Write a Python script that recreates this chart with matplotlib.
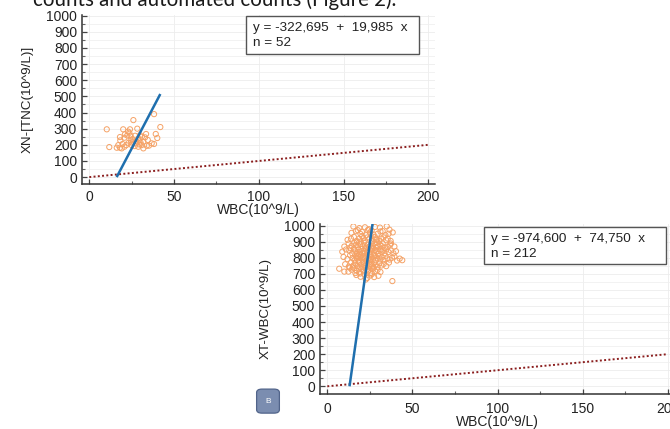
import matplotlib
matplotlib.use("Agg")
import matplotlib.pyplot as plt
from matplotlib.patches import Rectangle, FancyBboxPatch
from matplotlib.ticker import MultipleLocator

plt.rcParams["font.family"] = ["Liberation Sans", "DejaVu Sans"]

# --- panel A: XN-TNC vs WBC ---
xn_wbc = [10.3, 11.8, 26.0, 38.2, 41.9, 20.0, 24.0, 28.3, 23.6, 22.4,
          18.1, 18.3, 20.7, 24.4, 24.4, 28.9, 33.5, 32.9, 39.2, 40.1,
          17.1, 16.2, 18.1, 20.7, 26.0, 27.6, 29.3, 30.9, 28.9, 31.9,
          33.9, 36.8, 38.2, 25.0, 29.9, 31.9, 27.0, 19.1, 21.8, 22.9,
          25.5, 30.2, 34.5, 19.6, 23.1, 27.8, 35.2, 26.8, 31.0, 21.0,
          29.6, 24.8]
xn_tnc = [296, 186, 353, 390, 310, 296, 296, 300, 275, 258,
          248, 227, 244, 256, 229, 240, 267, 246, 267, 242,
          198, 182, 182, 188, 219, 209, 229, 198, 188, 219,
          194, 209, 205, 198, 260, 178, 256, 178, 198, 282,
          236, 214, 230, 205, 212, 222, 195, 192, 250, 265,
          202, 215]
xn_coef = (-322.695, 19.985)
xn_label = "y = -322,695  +  19,985  x"

# --- panel B: XT-WBC vs WBC ---
xt_wbc = [15.3, 18.8, 22.1, 24.5, 28.0, 30.9, 34.9, 36.5,
          14.2, 16.8, 19.5, 20.3, 22.8, 25.0, 27.1, 29.6, 31.2, 32.5, 34.1, 38.4, 17.9, 26.0, 36.0, 23.8,
          11.9, 13.9, 15.6, 17.2, 18.8, 20.4, 22.0, 23.5, 24.7, 26.3, 27.9, 29.3, 30.5, 31.5, 33.0, 34.6,
          35.5, 37.2, 21.1, 25.8, 28.6, 19.6,
          10.0, 12.5, 14.3, 15.8, 16.8, 18.0, 19.2, 20.7, 21.5, 22.6, 23.8, 24.7, 25.9, 26.8, 27.6, 28.7,
          29.6, 30.8, 31.9, 32.5, 33.8, 35.5, 36.9, 37.4, 39.4, 17.5, 22.0, 26.2, 29.0, 13.5,
          8.8, 11.0, 12.9, 14.6, 15.6, 16.5, 17.4, 18.3, 19.1, 20.0, 20.8, 21.6, 22.4, 23.2, 24.0, 24.9,
          25.7, 26.5, 27.3, 28.2, 29.0, 29.9, 30.8, 31.7, 32.6, 33.6, 34.7, 35.9, 37.3, 38.8, 40.3, 18.7,
          23.6, 27.8, 16.0, 21.9,
          9.5, 11.8, 13.4, 14.8, 16.0, 16.9, 17.6, 18.4, 19.0, 19.7, 20.5, 21.2, 22.0, 22.8, 23.5, 24.3,
          25.1, 25.9, 26.8, 27.6, 28.5, 29.3, 30.2, 31.1, 32.0, 33.0, 34.1, 35.3, 36.6, 38.0, 39.4, 41.0,
          42.5, 17.1, 20.1, 24.7, 28.0, 18.0,
          10.5, 12.6, 14.0, 15.3, 16.4, 17.5, 18.6, 19.6, 20.6, 21.5, 22.5, 23.4, 24.4, 25.4, 26.4, 27.4,
          28.4, 29.5, 30.6, 31.8, 33.1, 34.6, 36.2, 44.0, 19.1, 23.0, 27.0, 21.0, 25.9, 15.0,
          7.0, 10.0, 12.4, 14.3, 15.8, 17.3, 18.7, 20.0, 21.4, 22.7, 24.0, 25.3, 26.6, 28.0, 29.5, 31.2,
          19.3, 23.3, 16.5, 27.2, 13.2, 21.0,
          17.0, 19.5, 21.8, 23.5, 25.4, 27.5, 30.0, 38.2, 22.6, 26.3]
xt_count = [995, 985, 990, 978, 992, 988, 996, 975,
            955, 966, 948, 962, 941, 957, 945, 950, 964, 966, 941, 958, 972, 969, 950, 973,
            912, 919, 930, 905, 919, 935, 908, 926, 919, 903, 930, 915, 905, 919, 927, 910,
            919, 905, 922, 936, 912, 901,
            870, 889, 875, 893, 880, 866, 885, 872, 895, 862, 881, 870, 890, 876, 889, 864,
            870, 883, 873, 889, 864, 870, 882, 889, 870, 898, 876, 865, 895, 862,
            838, 852, 845, 828, 858, 840, 826, 849, 835, 855, 829, 843, 857, 834, 848, 822,
            845, 856, 831, 850, 840, 824, 853, 838, 846, 829, 852, 836, 845, 828, 841, 822,
            838, 844, 850, 827,
            805, 792, 816, 798, 785, 810, 795, 782, 801, 815, 789, 806, 796, 781, 812, 798,
            788, 805, 792, 816, 783, 800, 810, 790, 803, 785, 812, 796, 789, 800, 808, 783,
            795, 800, 797, 787, 809, 812,
            760, 745, 772, 752, 765, 748, 775, 757, 742, 768, 752, 778, 745, 762, 750, 770,
            757, 744, 766, 752, 762, 748, 770, 785, 740, 764, 744, 776, 756, 741,
            732, 714, 714, 726, 735, 719, 708, 730, 716, 738, 722, 705, 731, 717, 725, 712,
            702, 728, 705, 738, 738, 722,
            693, 682, 696, 675, 690, 680, 688, 655, 665, 700]
xt_coef = (-974.600, 74.750)
xt_label = "y = -974,600  +  74,750  x"

identity = [0, 200]

fig = plt.figure(figsize=(6.7, 4.29), dpi=100)
fig.patch.set_facecolor("white")

# page text, cut by the crop at the top
fig.text(0.049, 0.9865, "counts and automated counts (Figure 2).", family=["Lato", "DejaVu Sans"],
         fontsize=14.8, color="#1a1a1a", va="baseline", ha="left")

ax_a = fig.add_axes([0.1224, 0.571, 0.527, 0.394])
ax_b = fig.add_axes([0.4776, 0.0827, 0.5294, 0.395])


def draw_panel(ax, xs, ys, coef, eq, ylabel, box, xlab_y, xpad, ylim):
    ax.set_xlim(-4.3, 204)
    ax.set_ylim(*ylim)
    ax.xaxis.set_major_locator(MultipleLocator(50))
    ax.xaxis.set_minor_locator(MultipleLocator(25))
    ax.yaxis.set_major_locator(MultipleLocator(100))
    ax.yaxis.set_minor_locator(MultipleLocator(50))
    ax.grid(True, which="major", color="#ececec", lw=0.6)
    ax.grid(True, which="minor", axis="y", color="#f0f0f0", lw=0.6)
    ax.set_axisbelow(True)
    for s in ["top", "right"]:
        ax.spines[s].set_visible(False)
    for s in ["left", "bottom"]:
        ax.spines[s].set_color("#333333")
        ax.spines[s].set_linewidth(1.1)
    ax.tick_params(which="major", direction="in", length=3.5, width=0.9, color="#444444",
                   labelsize=10, labelcolor="#222222")
    ax.tick_params(which="minor", direction="in", length=2, width=0.8, color="#666666")
    ax.tick_params(axis="x", which="major", pad=xpad)
    ax.tick_params(axis="y", which="major", pad=3.5)

    ax.scatter(xs, ys, s=14, facecolors="none", edgecolors="#f5a266", linewidths=0.7, zorder=3)
    ax.plot(identity, identity, color="#8b1e1e", ls=(0, (1, 1.2)), lw=1.4, zorder=3)

    a, b = coef
    x0 = max(-a / b, min(xs))
    x1 = max(xs)
    ax.plot([x0, x1], [a + b * x0, a + b * x1], color="#1f6fae", lw=1.8, zorder=4,
            solid_capstyle="butt")

    left, bottom, right, top = box
    ax.add_patch(Rectangle((left, bottom), right - left, top - bottom, transform=ax.transAxes,
                           facecolor="white", edgecolor="#555555", lw=1.0, zorder=5))
    ax.text(left + 0.02, bottom + (top - bottom) * 0.67, eq, transform=ax.transAxes,
            fontsize=9.7, va="center", ha="left", color="#222222", zorder=6)
    ax.text(left + 0.02, bottom + (top - bottom) * 0.28, "n = %d" % len(xs), transform=ax.transAxes,
            fontsize=9.7, va="center", ha="left", color="#222222", zorder=6)

    ax.set_xlabel("WBC(10^9/L)", fontsize=10, color="#222222", va="center")
    ax.xaxis.set_label_coords(0.5, xlab_y)
    ax.set_ylabel(ylabel, fontsize=9.6, color="#222222", va="center")
    ax.yaxis.set_label_coords(-0.153, 0.5)


draw_panel(ax_a, xn_wbc, xn_tnc, xn_coef, xn_label, "XN-[TNC(10^9/L)]",
           (0.464, 0.769, 0.955, 0.996), -0.153, 4.5, (-43, 1004))
draw_panel(ax_b, xt_wbc, xt_count, xt_coef, xt_label, "XT-WBC(10^9/L)",
           (0.462, 0.764, 0.975, 0.982), -0.168, 6, (-45, 1010))

# panel tag "B"
badge = FancyBboxPatch((0.383, 0.037), 0.034, 0.056, boxstyle="round,pad=0,rounding_size=0.008",
                       transform=fig.transFigure, facecolor="#7b8db0", edgecolor="#51648a", lw=0.9)
fig.add_artist(badge)
fig.text(0.400, 0.065, "B", fontsize=6, color="white", ha="center", va="center")

fig.savefig("out.png", dpi=100)
